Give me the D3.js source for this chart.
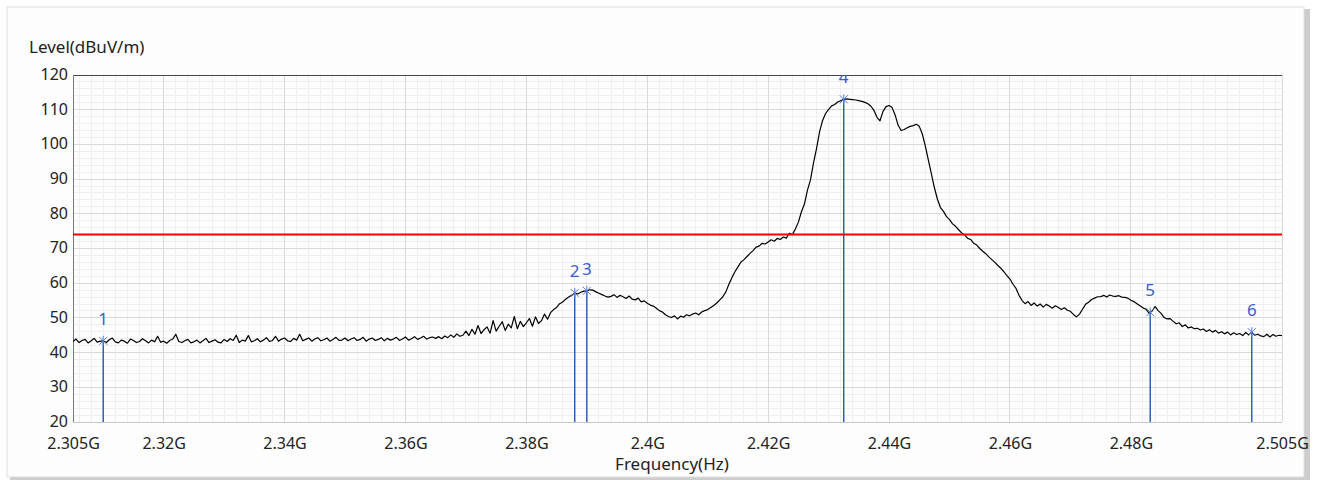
<!DOCTYPE html>
<html>
<head>
<meta charset="utf-8">
<script src="https://cdn.jsdelivr.net/npm/d3@7"></script>
<style>
  html, body { margin: 0; padding: 0; background: #ffffff; }
  svg { display: block; font-family: "Noto Sans", sans-serif; }
</style>
</head>
<body>
<svg id="chart" width="1319" height="480"></svg>
<script>
// Sweep: 2.305 GHz to 2.505 GHz in 0.5 MHz steps, level in dBuV/m
const sweepStartGHz = 2.305;
const sweepStepMHz = 0.5;
const levels = [
  // 2305 - 2314.5
  43.2,43.9,42.9,43.5,43.8,42.8,43.4,44.1,43.0,43.3, 43.4,42.9,43.7,44.2,43.1,42.8,43.6,43.3,42.7,43.9,
  // 2315 - 2324.5
  43.5,42.9,43.2,44.0,43.4,42.8,43.6,43.1,44.7,43.0, 43.3,42.7,43.5,43.9,45.3,43.2,42.9,43.4,43.8,42.8,
  // 2325 - 2334.5
  43.1,43.6,42.8,43.4,44.1,42.9,43.3,43.7,43.0,42.8, 43.8,43.2,44.0,43.5,45.0,42.9,43.6,43.3,44.9,43.1,
  // 2335 - 2344.5
  43.4,44.0,43.1,43.6,44.3,43.2,43.5,44.7,43.3,43.9, 44.2,43.4,43.2,44.1,43.6,45.3,43.4,43.8,44.2,43.3,
  // 2345 - 2354.5
  43.9,44.3,43.4,43.7,44.2,43.3,43.8,44.4,43.5,43.6, 44.2,43.4,43.9,44.3,43.5,43.8,44.4,43.3,43.9,44.2,
  // 2355 - 2364.5
  43.5,43.8,44.3,43.4,44.1,43.6,43.9,44.4,43.5,43.9, 44.5,43.6,44.0,44.6,43.8,44.2,44.7,43.9,44.3,44.5,
  // 2365 - 2374.5
  44.1,44.6,44.0,44.8,44.3,45.1,44.4,45.4,44.7,45.0, 46.2,44.9,46.7,45.3,47.8,45.5,46.6,47.4,45.6,49.2,
  // 2375 - 2384.5
  46.2,47.6,48.9,46.4,48.2,47.1,50.4,46.9,49.0,47.5, 48.6,49.8,47.6,50.3,48.4,49.2,51.1,49.6,51.5,52.4,
  // 2385 - 2394.5
  53.0,54.1,54.6,55.4,56.0,56.5,57.2,56.9,57.4,57.7, 57.8,58.1,58.0,57.5,57.1,56.7,56.3,56.0,56.2,56.7,
  // 2395 - 2404.5
  55.9,56.5,56.1,55.6,56.3,55.4,55.2,55.7,54.6,54.9, 54.2,53.7,53.4,52.8,52.1,51.7,50.9,50.4,50.1,50.6,
  // 2405 - 2414.5
  49.7,50.5,50.2,50.9,50.6,51.1,51.4,50.9,51.7,52.1, 52.4,53.0,53.6,54.3,55.2,56.1,57.5,59.7,61.6,63.3,
  // 2415 - 2424.5
  64.7,66.1,66.8,67.7,68.6,69.4,70.4,70.7,71.5,71.3, 71.9,72.5,72.1,72.9,72.6,73.3,73.0,74.4,74.0,75.6,
  // 2425 - 2434.5
  77.6,80.6,82.8,86.8,89.8,94.7,98.8,103.6,106.9,108.9, 110.1,111.1,111.5,112.2,112.6,113.0,113.1,113.0,112.9,112.8,
  // 2435 - 2444.5
  112.6,112.4,112.1,111.7,111.0,109.8,107.8,106.8,109.5,110.9, 111.2,110.6,108.5,105.5,104.0,104.3,104.8,105.2,105.4,105.8,
  // 2445 - 2454.5
  105.2,103.0,99.5,95.5,91.5,87.5,84.2,81.8,80.7,79.2, 78.3,77.1,76.4,75.4,74.5,73.9,72.9,72.6,71.5,71.0,
  // 2455 - 2464.5
  70.0,69.2,68.5,67.6,66.8,66.0,65.1,64.3,63.3,62.2, 61.2,59.7,58.5,56.5,55.0,54.1,54.7,53.6,54.3,53.4,
  // 2465 - 2474.5
  54.0,53.1,53.9,53.4,52.8,53.5,53.0,52.4,52.9,52.2, 51.9,51.0,50.3,51.1,52.5,53.9,54.5,55.3,55.7,56.1,
  // 2475 - 2484.5
  56.1,56.5,56.0,56.6,56.3,56.2,56.4,56.0,55.9,55.7, 55.1,54.7,54.1,53.5,52.9,52.5,51.4,51.9,53.3,52.1,
  // 2485 - 2494.5
  51.3,50.1,49.7,49.8,49.0,48.3,48.6,47.5,48.0,47.1, 47.4,46.9,47.0,46.5,46.8,46.1,46.6,45.9,46.4,45.6,
  // 2495 - 2504.5
  46.0,45.4,45.9,45.1,45.7,45.2,45.5,44.9,45.8,45.1, 45.9,45.0,45.3,44.8,44.6,45.3,44.5,45.2,44.7,45.0,
  // 2505
  44.9
];

// Peak limit line
const limitLevel = 74;

// Markers
const markerIds = ["1", "2", "3", "4", "5", "6"];
const markerFreqs = [2.3100, 2.3880, 2.3900, 2.4325, 2.4832, 2.5000];
const markerLevels = [43.4, 57.2, 57.8, 113.0, 51.6, 45.9];

// Axis ticks
const xTickValues = [2.305, 2.32, 2.34, 2.36, 2.38, 2.40, 2.42, 2.44, 2.46, 2.48, 2.505];
const xTickLabels = ["2.305G", "2.32G", "2.34G", "2.36G", "2.38G", "2.4G", "2.42G", "2.44G", "2.46G", "2.48G", "2.505G"];
const yTickValues = [20, 30, 40, 50, 60, 70, 80, 90, 100, 110, 120];

const svg = d3.select("#chart");
const plot = { left: 73, right: 1282, top: 75, bottom: 422 };
const fontStack = "\"Noto Sans\", sans-serif";

const x = d3.scaleLinear().domain([2.305, 2.505]).range([plot.left, plot.right]);
const y = d3.scaleLinear().domain([20, 120]).range([plot.bottom, plot.top]);

// Outer panel with a soft shadow on the right
svg.append("rect").attr("x", 10).attr("y", 9).attr("width", 1300).attr("height", 471).attr("fill", "#cdcdcd");
svg.append("rect").attr("x", 7).attr("y", 7).attr("width", 1297).attr("height", 470)
  .attr("fill", "#fdfdfd").attr("stroke", "#dedede").attr("stroke-width", 1);

svg.append("defs").append("clipPath").attr("id", "plotClip")
  .append("rect").attr("x", plot.left).attr("y", plot.top)
  .attr("width", plot.right - plot.left).attr("height", plot.bottom - plot.top);

const grid = svg.append("g");
// minor grid every 2 MHz / 2 dB
const xMinor = d3.range(2306, 2505, 2).filter(m => m % 20 !== 0).map(m => m / 1000);
const yMinor = d3.range(22, 120, 2).filter(v => v % 10 !== 0);
grid.selectAll(".xm").data(xMinor).join("line")
  .attr("x1", d => x(d)).attr("x2", d => x(d)).attr("y1", plot.top).attr("y2", plot.bottom)
  .attr("stroke", "#efefef").attr("stroke-width", 1).attr("shape-rendering", "crispEdges");
grid.selectAll(".ym").data(yMinor).join("line")
  .attr("x1", plot.left).attr("x2", plot.right).attr("y1", d => y(d)).attr("y2", d => y(d))
  .attr("stroke", "#efefef").attr("stroke-width", 1).attr("shape-rendering", "crispEdges");
// major grid
grid.selectAll(".xM").data(xTickValues.slice(1)).join("line")
  .attr("x1", d => x(d)).attr("x2", d => x(d)).attr("y1", plot.top).attr("y2", plot.bottom)
  .attr("stroke", "#d9d9d9").attr("stroke-width", 1).attr("shape-rendering", "crispEdges");
grid.selectAll(".yM").data(yTickValues.slice(1, -1)).join("line")
  .attr("x1", plot.left).attr("x2", plot.right).attr("y1", d => y(d)).attr("y2", d => y(d))
  .attr("stroke", "#d9d9d9").attr("stroke-width", 1).attr("shape-rendering", "crispEdges");

// frame lines
svg.append("line").attr("x1", plot.left).attr("x2", plot.right).attr("y1", plot.top).attr("y2", plot.top)
  .attr("stroke", "#444").attr("shape-rendering", "crispEdges");
svg.append("line").attr("x1", plot.left).attr("x2", plot.right).attr("y1", plot.bottom).attr("y2", plot.bottom)
  .attr("stroke", "#c8c8c8").attr("shape-rendering", "crispEdges");
svg.append("line").attr("x1", plot.left).attr("x2", plot.left).attr("y1", plot.top).attr("y2", plot.bottom)
  .attr("stroke", "#777").attr("shape-rendering", "crispEdges");

// axes (labels only)
const xAxis = d3.axisBottom(x).tickValues(xTickValues)
  .tickFormat((d, i) => xTickLabels[i]).tickSize(0).tickPadding(16);
const gx = svg.append("g").attr("transform", `translate(0,${plot.bottom})`).call(xAxis);
gx.select(".domain").remove();
gx.selectAll("text").attr("font-size", 16).attr("fill", "#222").attr("font-family", fontStack);

const yAxis = d3.axisLeft(y).tickValues(yTickValues).tickSize(0).tickPadding(5);
const gy = svg.append("g").attr("transform", `translate(${plot.left},0)`).call(yAxis);
gy.select(".domain").remove();
gy.selectAll("text").attr("font-size", 16).attr("fill", "#222").attr("font-family", fontStack)
  .attr("dy", "0.28em");

// axis titles
svg.append("text").attr("x", 29).attr("y", 53).attr("font-size", 17).attr("fill", "#222")
  .text("Level(dBuV/m)");
svg.append("text").attr("x", 672).attr("y", 470).attr("text-anchor", "middle").attr("font-size", 17).attr("fill", "#222")
  .text("Frequency(Hz)");

const content = svg.append("g").attr("clip-path", "url(#plotClip)");

// trace
const trace = levels.map((v, i) => ({ f: sweepStartGHz + i * sweepStepMHz / 1000, v }));
content.append("path").datum(trace)
  .attr("fill", "none").attr("stroke", "#000").attr("stroke-width", 1.2).attr("stroke-linejoin", "round")
  .attr("d", d3.line().x(d => x(d.f)).y(d => y(d.v)));

// limit line
content.append("line").attr("x1", plot.left).attr("x2", plot.right)
  .attr("y1", y(limitLevel)).attr("y2", y(limitLevel))
  .attr("stroke", "#ff0000").attr("stroke-width", 2);

// markers
const markers = markerIds.map((id, i) => ({ id, f: markerFreqs[i], v: markerLevels[i] }));
const mg = content.selectAll(".marker").data(markers).join("g");
mg.append("line")
  .attr("x1", d => x(d.f)).attr("x2", d => x(d.f))
  .attr("y1", y(20)).attr("y2", d => y(d.v))
  .attr("stroke", "#2457b0").attr("stroke-width", 1.4);
mg.append("path")
  .attr("d", d => {
    const cx = x(d.f), cy = y(d.v), r = 4;
    return `M${cx - r},${cy - r}L${cx + r},${cy + r}M${cx - r},${cy + r}L${cx + r},${cy - r}M${cx},${cy - r - 1}L${cx},${cy + r + 1}`;
  })
  .attr("stroke", "#5a7fd0").attr("stroke-width", 1).attr("fill", "none");
mg.append("text")
  .attr("x", d => x(d.f)).attr("y", d => y(d.v) - 16)
  .attr("text-anchor", "middle").attr("font-size", 17).attr("fill", "#3a5ccc")
  .text(d => d.id);
</script>
</body>
</html>
